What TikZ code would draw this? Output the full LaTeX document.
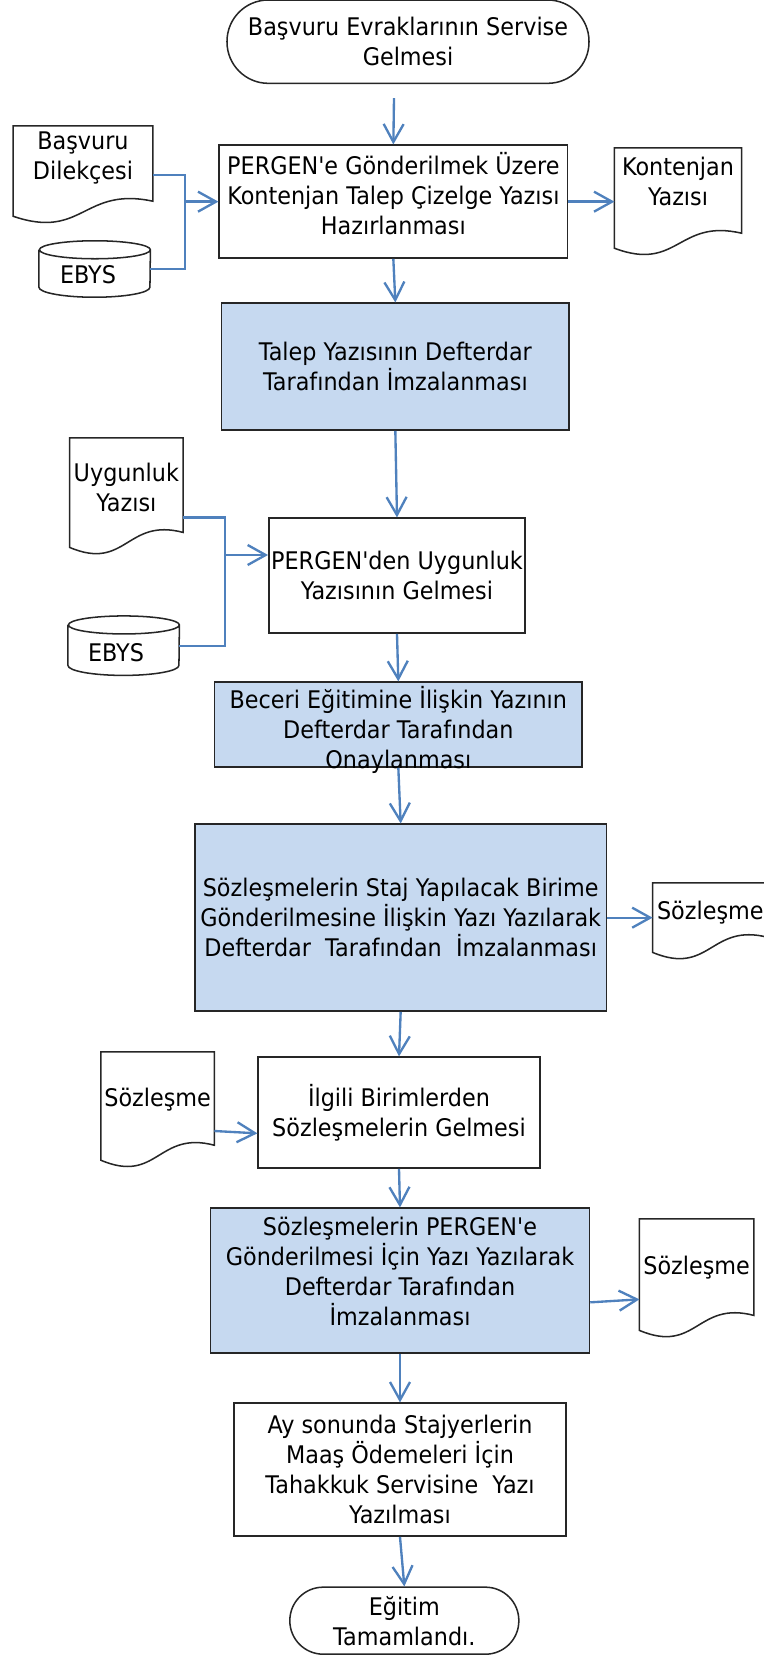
\documentclass[tikz,border=0pt]{standalone}
\usepackage{fontspec}
\newfontfamily\tahoma{DejaVu Sans}[FakeStretch=0.92]
\usetikzlibrary{arrows.meta}

\begin{document}
\begin{tikzpicture}[
    font=\tahoma\fontsize{20.7}{25.6}\selectfont,
    stepbox/.style={draw=black!85, line width=1.3pt, align=center, inner sep=0pt},
    bluebox/.style={stepbox, fill=stepblue},
    termbox/.style={stepbox, rounded corners=#1},
    outframe/.style={inner sep=0pt},
    lbl/.style={align=center, inner sep=0pt},
    shapeline/.style={draw=black!85, line width=1.3pt},
    flowline/.style={draw=lineblue, line width=2pt},
    flowarrow/.style={flowline, -{Straight Barb[length=0.54cm,width=0.6cm]}}
]
    % Define colors
    \definecolor{stepblue}{RGB}{198,217,240}
    \definecolor{lineblue}{RGB}{79,129,189}

    \useasboundingbox (0,0) rectangle (22.89,-49.65);

    % Start
    \node[termbox=1.24cm, minimum width=10.86cm, minimum height=2.5cm] (basla) at (12.24,-1.25) {Başvuru Evraklarının Servise\\Gelmesi};

    % Step 1: request letter
    \node[stepbox, minimum width=10.45cm, minimum height=3.39cm, label={[lbl, yshift=0.25cm]center:PERGEN'e Gönderilmek Üzere\\Kontenjan Talep Çizelge Yazısı\\Hazırlanması}] (hazirlik) at (11.80,-6.05) {};
    \node[outframe, minimum width=4.18cm, minimum height=2.7cm, label={[lbl, yshift=0.39cm]center:Başvuru\\Dilekçesi}] (dilekce) at (2.49,-5.13) {};
    \node[outframe, minimum width=3.33cm, minimum height=1.68cm, label={[lbl, xshift=-0.2cm, yshift=-0.18cm]center:EBYS}] (ebys1) at (2.84,-8.07) {};
    \node[outframe, minimum width=3.80cm, minimum height=3cm, label={[lbl, yshift=0.51cm]center:Kontenjan\\Yazısı}] (kontyazi) at (20.34,-5.94) {};

    % Step 2: signature
    \node[bluebox, minimum width=10.42cm, minimum height=3.81cm] (talep) at (11.86,-11.0) {Talep Yazısının Defterdar\\Tarafından İmzalanması};

    % Step 3: approval from PERGEN
    \node[stepbox, minimum width=7.69cm, minimum height=3.45cm] (uygunluk) at (11.91,-17.27) {PERGEN'den Uygunluk\\Yazısının Gelmesi};
    \node[outframe, minimum width=3.39cm, minimum height=3.27cm, label={[lbl, yshift=0.17cm]center:Uygunluk\\Yazısı}] (uygyazi) at (3.79,-14.78) {};
    \node[outframe, minimum width=3.33cm, minimum height=1.77cm, label={[lbl, xshift=-0.23cm, yshift=-0.2cm]center:EBYS}] (ebys2) at (3.71,-19.37) {};

    % Step 4
    \node[bluebox, minimum width=11.03cm, minimum height=2.55cm, label={[lbl, yshift=-0.15cm]center:Beceri Eğitimine İlişkin Yazının\\Defterdar Tarafından\\Onaylanması}] (onay) at (11.95,-21.74) {};

    % Step 5
    \node[bluebox, minimum width=12.35cm, minimum height=5.61cm] (gonderim) at (12.02,-27.53) {Sözleşmelerin Staj Yapılacak Birime\\Gönderilmesine İlişkin Yazı Yazılarak\\Defterdar~~Tarafından~~İmzalanması};
    \node[outframe, minimum width=3.45cm, minimum height=2.07cm, label={[lbl, yshift=0.14cm]center:Sözleşme}] (soz1) at (21.31,-27.53) {};

    % Step 6
    \node[stepbox, minimum width=8.45cm, minimum height=3.33cm] (gelis) at (11.97,-33.38) {İlgili Birimlerden\\Sözleşmelerin Gelmesi};
    \node[outframe, minimum width=3.39cm, minimum height=3.24cm, label={[lbl, yshift=0.18cm]center:Sözleşme}] (soz2) at (4.73,-33.18) {};

    % Step 7
    \node[bluebox, minimum width=11.37cm, minimum height=4.35cm, label={[lbl, yshift=0.28cm]center:Sözleşmelerin PERGEN'e\\Gönderilmesi İçin Yazı Yazılarak\\Defterdar Tarafından\\İmzalanması}] (pergen) at (12.0,-38.42) {};
    \node[outframe, minimum width=3.42cm, minimum height=3.33cm, label={[lbl, yshift=0.2cm]center:Sözleşme}] (soz3) at (20.90,-38.24) {};

    % Step 8
    \node[stepbox, minimum width=9.97cm, minimum height=3.99cm] (maas) at (12.0,-44.09) {Ay sonunda Stajyerlerin\\Maaş Ödemeleri İçin\\Tahakkuk Servisine~~Yazı\\Yazılması};

    % End
    \node[termbox=1.0cm, minimum width=6.87cm, minimum height=2.01cm] (bitis) at (12.13,-48.62) {Eğitim\\Tamamlandı.};

    % Document shapes
    \foreach \d in {dilekce,kontyazi,uygyazi,soz1,soz2,soz3} {
        \draw[shapeline] (\d.south west) .. controls ([yshift=-0.72cm]\d.south) and ([yshift=0.9cm]\d.south) .. ([yshift=0.45cm]\d.south east) -- (\d.north east) -- (\d.north west) -- cycle;
    }
    % Database shapes
    \foreach \c in {ebys1,ebys2} {
        \draw[shapeline] ([yshift=-0.27cm]\c.north west) -- ([yshift=0.3cm]\c.south west) arc[start angle=180, end angle=360, x radius=1.665cm, y radius=0.3cm] -- ([yshift=-0.27cm]\c.north east) arc[start angle=0, end angle=360, x radius=1.665cm, y radius=0.27cm];
    }

    % Inputs joined on the left
    \coordinate (j1) at (5.55,-6.05);
    \coordinate (j2) at (6.75,-16.65);
    \draw[flowline] ([yshift=-0.12cm]dilekce.east) -| (j1) |- (ebys1.east);
    \draw[flowarrow] (j1) -- (hazirlik.west);
    \draw[flowline] ([yshift=-0.74cm]uygyazi.east) -| (j2) |- (ebys2.east);
    \draw[flowarrow] (j2) -- (j2 -| uygunluk.west);

    % Main flow
    \draw[flowarrow] ([shift={(-0.42,-0.42)}]basla.south) -- (hazirlik.north);
    \foreach \a/\b in {hazirlik/talep, talep/uygunluk, uygunluk/onay, onay/gonderim, gonderim/gelis, gelis/pergen, pergen/maas, maas/bitis} {
        \draw[flowarrow] (\a.south) -- (\b.north);
    }

    % Outputs
    \draw[flowarrow] (hazirlik.east) -- (hazirlik.east -| kontyazi.west);
    \draw[flowarrow] (gonderim.east) -- (soz1.west);
    \draw[flowarrow] ([yshift=-0.75cm]soz2.east) -- ([yshift=-0.62cm]gelis.west);
    \draw[flowarrow] ([yshift=-0.65cm]pergen.east) -- ([yshift=-0.74cm]soz3.west);

\end{tikzpicture}
\end{document}
